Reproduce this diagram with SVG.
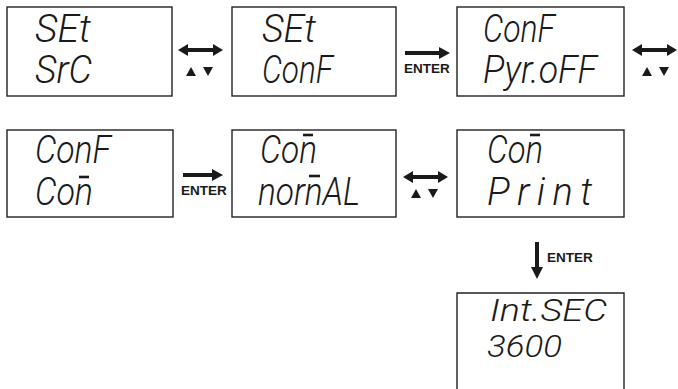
<svg xmlns="http://www.w3.org/2000/svg" width="678" height="389" viewBox="0 0 678 389">
<style>
.box{fill:#fff;stroke:#222;stroke-width:1.4}
.lcd{font-family:Roboto,"DejaVu Sans",sans-serif;font-weight:300;font-style:italic;font-size:38px;fill:#1a1a1a}
.sm{font-size:32px}
.bar{stroke:#1a1a1a;stroke-width:2.6;stroke-linecap:butt}
.lbl{font-family:"Liberation Sans",Arial,sans-serif;font-weight:bold;font-size:13.5px;fill:#1a1a1a}
.shaft{stroke:#1a1a1a;stroke-width:4;fill:none}
.tri{fill:#1a1a1a}
</style>
<rect width="678" height="389" fill="#fff"/>
<g id="n1">
<rect class="box" x="7" y="7" width="165" height="89"/>
<text class="lcd" x="35" y="42" textLength="56" lengthAdjust="spacingAndGlyphs">SEt</text>
<text class="lcd" x="35" y="83" textLength="57" lengthAdjust="spacingAndGlyphs">SrC</text>
</g>
<g id="n2">
<rect class="box" x="232" y="7" width="164" height="89"/>
<text class="lcd" x="262" y="42" textLength="54" lengthAdjust="spacingAndGlyphs">SEt</text>
<text class="lcd" x="262" y="83" textLength="71" lengthAdjust="spacingAndGlyphs">ConF</text>
</g>
<g id="n3">
<rect class="box" x="457" y="7" width="167" height="89"/>
<text class="lcd" x="483" y="42" textLength="72" lengthAdjust="spacingAndGlyphs">ConF</text>
<text class="lcd" x="483" y="83" textLength="114" lengthAdjust="spacingAndGlyphs">Pyr.oFF</text>
</g>
<g id="n4">
<rect class="box" x="7" y="130" width="166" height="87"/>
<text class="lcd" x="35" y="163" textLength="76" lengthAdjust="spacingAndGlyphs">ConF</text>
<text class="lcd" x="35" y="205" textLength="58" lengthAdjust="spacingAndGlyphs">Con</text>
<line class="bar" x1="79" y1="177" x2="89" y2="177"/>
</g>
<g id="n5">
<rect class="box" x="232" y="130" width="164" height="87"/>
<text class="lcd" x="260" y="163" textLength="57" lengthAdjust="spacingAndGlyphs">Con</text>
<line class="bar" x1="303" y1="135" x2="313" y2="135"/>
<text class="lcd" x="258" y="205" textLength="102" lengthAdjust="spacingAndGlyphs">nornAL</text>
<line class="bar" x1="309" y1="176" x2="320" y2="176"/>
</g>
<g id="n6">
<rect class="box" x="457" y="130" width="167" height="87"/>
<text class="lcd" x="487" y="163" textLength="56" lengthAdjust="spacingAndGlyphs">Con</text>
<line class="bar" x1="530" y1="135" x2="540" y2="135"/>
<text class="lcd" x="487" y="205" textLength="105" lengthAdjust="spacing">Print</text>
</g>
<g id="n7">
<path class="box" d="M457,390 V293 H624 V390"/>
<text class="lcd sm" x="490" y="321" textLength="117" lengthAdjust="spacingAndGlyphs">Int.SEC</text>
<text class="lcd sm" x="487" y="357" textLength="75" lengthAdjust="spacingAndGlyphs">3600</text>
</g>
<g id="connectors">
<line class="shaft" x1="186" y1="50" x2="215" y2="50"/>
<polygon class="tri" points="178,50 188,44 188,56"/>
<polygon class="tri" points="223,50 213,44 213,56"/>
<polygon class="tri" points="186,76 196,76 191,67"/>
<polygon class="tri" points="203,67 213,67 208,76"/>
<line class="shaft" x1="405" y1="53" x2="440" y2="53"/>
<polygon class="tri" points="450,53 439,47 439,59"/>
<text class="lbl" x="404" y="73">ENTER</text>
<line class="shaft" x1="640" y1="50" x2="669" y2="50"/>
<polygon class="tri" points="632,50 642,44 642,56"/>
<polygon class="tri" points="677,50 667,44 667,56"/>
<polygon class="tri" points="642,76 652,76 647,67"/>
<polygon class="tri" points="659,67 669,67 664,76"/>
<line class="shaft" x1="183" y1="175" x2="213" y2="175"/>
<polygon class="tri" points="223,175 212,169 212,181"/>
<text class="lbl" x="181" y="195">ENTER</text>
<line class="shaft" x1="411" y1="177" x2="440" y2="177"/>
<polygon class="tri" points="403,177 413,171 413,183"/>
<polygon class="tri" points="448,177 438,171 438,183"/>
<polygon class="tri" points="411,198 421,198 416,189"/>
<polygon class="tri" points="428,189 438,189 433,198"/>
<line class="shaft" x1="537" y1="242" x2="537" y2="268"/>
<polygon class="tri" points="537,279 531,267 543,267"/>
<text class="lbl" x="547" y="262">ENTER</text>
</g>
</svg>
